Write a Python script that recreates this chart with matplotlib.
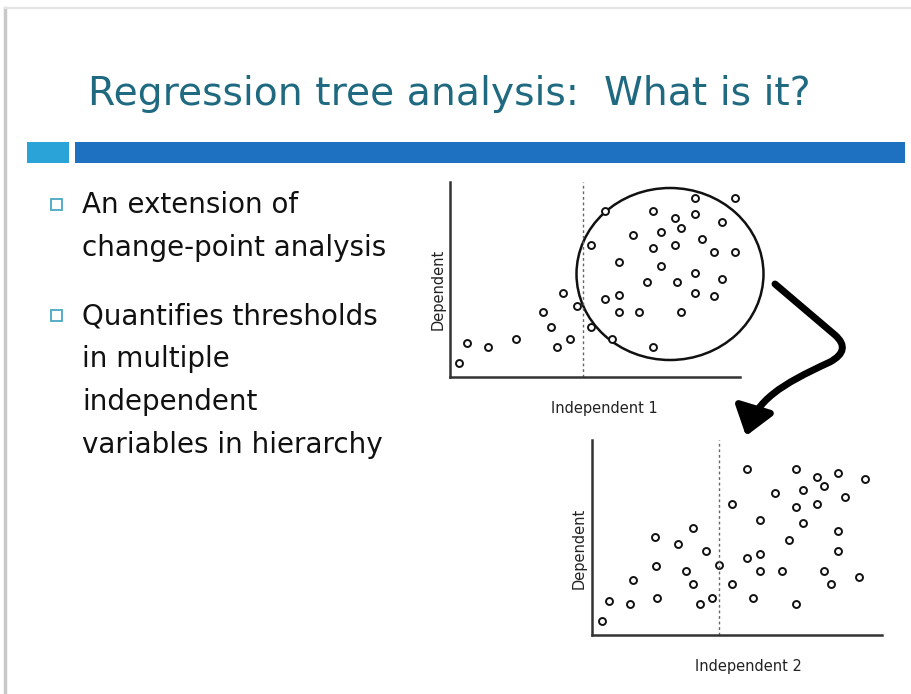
import matplotlib.pyplot as plt
from matplotlib.patches import Rectangle, Ellipse, FancyArrowPatch
from matplotlib.path import Path

plt.rcParams['font.family'] = ['DejaVu Sans']

# scatter values (arbitrary units, 0-290 across, 0-195 up)
ind1 = [9, 17, 38, 66, 107, 120, 101, 93, 113, 127, 141, 162, 141, 155, 155, 169, 169, 169,
        183, 189, 197, 203, 203, 203, 211, 211, 225, 231, 225, 227, 231, 245, 245, 245, 245,
        252, 264, 264, 272, 272, 285, 285]
dep1 = [14, 34, 30, 38, 30, 38, 50, 65, 84, 71, 50, 38, 132, 166, 78, 82, 65, 115,
        142, 65, 95, 166, 129, 30, 145, 111, 159, 149, 132, 95, 65, 179, 163, 104, 84,
        138, 125, 81, 155, 98, 179, 125]

ind2 = [10, 17, 38, 41, 65, 64, 63, 86, 94, 101, 101, 108, 114, 120, 127, 140, 140, 155,
        155, 161, 168, 168, 168, 183, 190, 197, 204, 204, 204, 211, 211, 225, 232, 225,
        232, 239, 246, 246, 246, 253, 267, 273]
dep2 = [14, 34, 31, 55, 37, 69, 98, 91, 64, 51, 107, 31, 84, 37, 70, 51, 131, 166,
        77, 37, 81, 64, 115, 142, 64, 95, 166, 128, 31, 145, 112, 158, 149, 131,
        64, 51, 162, 104, 84, 138, 58, 156]

split1 = 133
split2 = 127

title = "Regression tree analysis:  What is it?"
bullets = [["An extension of", "change-point analysis"],
           ["Quantifies thresholds", "in multiple", "independent", "variables in hierarchy"]]

W, H = 912, 694
fig = plt.figure(figsize=(W / 100, H / 100), dpi=100)

# background layer in pixel coordinates
bg = fig.add_axes([0, 0, 1, 1])
bg.set_xlim(0, W)
bg.set_ylim(H, 0)
bg.axis('off')

# slide edges
bg.plot([5, 5], [8, H], color='#c8c8c8', lw=2.5)
bg.plot([5, W], [8, 8], color='#e4e4e4', lw=1.5)

bg.text(88, 105, title, fontsize=28.3, color='#1f6a80', va='baseline', ha='left')
bg.add_patch(Rectangle((27, 142), 42, 21, color='#2aa3d8', lw=0))
bg.add_patch(Rectangle((75, 142), 830, 21, color='#1e70c0', lw=0))

y = 213
for group in bullets:
    bg.add_patch(Rectangle((51, y - 14), 11, 11, fill=False, ec='#4aa8c4', lw=1.3))
    for line in group:
        bg.text(82, y, line, fontsize=20, color='#111111', va='baseline', ha='left')
        y += 43
    y += 25

# curved arrow between the two plots
verts = [(775, 284), (835, 335), (852, 350), (830, 362), (780, 385), (757, 400), (746, 436)]
codes = [Path.MOVETO, Path.LINETO, Path.CURVE3, Path.CURVE3, Path.CURVE4, Path.CURVE4, Path.CURVE4]
arrow = FancyArrowPatch(path=Path(verts, codes), arrowstyle='-|>,head_length=1.1,head_width=0.8',
                        mutation_scale=15, lw=5, color='black', shrinkA=0, shrinkB=0,
                        capstyle='round', joinstyle='round')
bg.add_patch(arrow)


def scatter_panel(x0, y0, xs, ys, split, xlabel, lab_x, lab_y, dep_x, dep_y):
    ax = fig.add_axes([x0 / W, (H - y0) / H, 290 / W, 195 / H])
    ax.set_xlim(0, 290)
    ax.set_ylim(0, 195)
    for s in ['top', 'right']:
        ax.spines[s].set_visible(False)
    for s in ['left', 'bottom']:
        ax.spines[s].set_color('#333333')
        ax.spines[s].set_linewidth(1.8)
    ax.set_xticks([])
    ax.set_yticks([])
    ax.set_facecolor('none')
    ax.plot(xs, ys, 'o', ms=5, mfc='white', mec='#111111', mew=1.4, clip_on=False)
    ax.axvline(split, color='#666666', lw=1, ls=(0, (2, 2)))
    bg.text(lab_x, lab_y, xlabel, fontsize=10.5, color='#222222', ha='center', va='center')
    bg.text(dep_x, dep_y, 'Dependent', fontsize=10.5, color='#222222', ha='center', va='center',
            rotation=90)
    return ax


ax1 = scatter_panel(450, 377, ind1, dep1, split1, 'Independent 1', 604, 408, 438, 289)
ax1.add_patch(Ellipse((220, 103), 187, 172, fill=False, ec='#111111', lw=1.8, clip_on=False))

scatter_panel(592, 635, ind2, dep2, split2, 'Independent 2', 748, 666, 579, 548)

fig.savefig('out.png', dpi=100)
